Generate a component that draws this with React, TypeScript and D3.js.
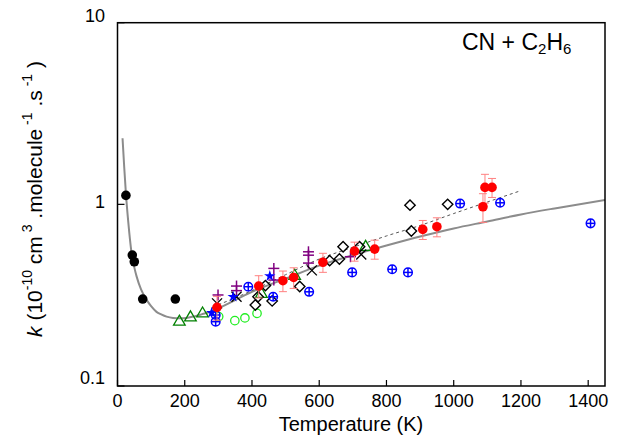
import React from "react";
import * as d3 from "d3";

// ---------- data ----------
const xTicks = [0, 200, 400, 600, 800, 1000, 1200, 1400];
const yTicks = [0.1, 1, 10];
const yTickLabels = ["0.1", "1", "10"];

// solid grey fit curve
const fitT = [15, 20, 25, 32, 42, 50, 57, 70, 87, 100, 116, 130, 146, 165, 186, 205, 225, 250, 275, 300, 400, 500, 600, 700, 800, 900, 1000, 1100, 1200, 1300, 1450];
const fitK = [2.31, 1.6, 1.15, 0.8, 0.537, 0.45, 0.4, 0.34, 0.297, 0.275, 0.256, 0.248, 0.241, 0.237, 0.236, 0.237, 0.241, 0.248, 0.256, 0.268, 0.33, 0.39, 0.46, 0.525, 0.593, 0.665, 0.737, 0.805, 0.88, 0.95, 1.056];

// dashed fit
const dashT = [300, 400, 500, 600, 700, 800, 900, 1000, 1100, 1200];
const dashK = [0.28, 0.335, 0.41, 0.5, 0.58, 0.67, 0.765, 0.89, 1.03, 1.19];

// black filled circles (low T)
const blackT = [25, 44, 50, 75, 172];
const blackK = [1.12, 0.526, 0.483, 0.301, 0.301];

// red filled circles with error bars
const redT = [296, 420, 492, 524, 611, 705, 765, 908, 950, 1087, 1093, 1114];
const redK = [0.271, 0.355, 0.38, 0.396, 0.48, 0.553, 0.567, 0.728, 0.753, 0.97, 1.24, 1.24];
const redErr = [0.15, 0.14, 0.13, 0.13, 0.12, 0.12, 0.12, 0.12, 0.12, 0.18, 0.18, 0.12];

// open diamonds
const diamondT = [410, 418, 440, 460, 542, 631, 660, 671, 720, 874, 870, 982];
const diamondK = [0.279, 0.31, 0.357, 0.294, 0.353, 0.49, 0.5, 0.584, 0.584, 0.713, 0.99, 1.0];

// blue circled plus
const oplusT = [292, 292, 389, 463, 570, 698, 817, 864, 1019, 1138, 1407];
const oplusK = [0.246, 0.226, 0.352, 0.31, 0.33, 0.422, 0.439, 0.422, 1.01, 1.02, 0.786];

// purple plus
const purpleT = [299, 354, 354, 465, 465, 568, 568, 568, 693];
const purpleK = [0.317, 0.355, 0.335, 0.444, 0.383, 0.548, 0.525, 0.475, 0.515];

// black crosses
const crossT = [296, 354, 578, 725];
const crossK = [0.285, 0.31, 0.433, 0.53];

// blue stars
const starT = [280, 344, 453];
const starK = [0.253, 0.31, 0.403];

// dark green open triangles
const triT = [184, 217, 253, 428, 527, 738];
const triK = [0.228, 0.241, 0.253, 0.324, 0.408, 0.589];

// light green open circles
const lgT = [301, 349, 379, 415];
const lgK = [0.241, 0.229, 0.237, 0.251];

// ---------- layout ----------
const W = 633, H = 437;
const X0 = 117.5, X1 = 605, Y0 = 22.7, Y1 = 386;
const FONT = "Liberation Sans, Arial, sans-serif";
const yLabelShift = [-7, -1, -5];

export default function App() {
  const x = d3.scaleLinear().domain([0, 1450]).range([X0, X1]);
  const y = d3.scaleLog().domain([0.1, 10]).range([Y1, Y0]);

  const fitLine = d3.line<number>().x((_, i) => x(fitT[i])).y((d) => y(d)).curve(d3.curveMonotoneX)(fitK) || "";
  const dashLine = d3.line<number>().x((_, i) => x(dashT[i])).y((d) => y(d)).curve(d3.curveMonotoneX)(dashK) || "";

  const star = d3.symbol().type(d3.symbolStar).size(40)() || "";
  const diamond = "M0,-5.2L5.2,0L0,5.2L-5.2,0Z";
  const tri = "M0,-5.8L5.8,4.2L-5.8,4.2Z";

  return (
    <svg width={W} height={H} style={{ position: "absolute", left: 0, top: 0, background: "#fff" }} fontFamily={FONT}>
      <defs>
        <clipPath id="plot">
          <rect x={X0} y={Y0} width={X1 - X0} height={Y1 - Y0} />
        </clipPath>
      </defs>
      {/* curves */}
      <g clipPath="url(#plot)">
        <path d={fitLine} fill="none" stroke="#8c8c8c" strokeWidth={2} />
        <path d={dashLine} fill="none" stroke="#555" strokeWidth={1} strokeDasharray="3,3" />
      </g>

      {/* black filled circles */}
      {blackT.map((t, i) => (
        <circle key={"b" + i} cx={x(t)} cy={y(blackK[i])} r={4.8} fill="#000" />
      ))}
      {/* light green circles */}
      {lgT.map((t, i) => (
        <circle key={"lg" + i} cx={x(t)} cy={y(lgK[i])} r={4.2} fill="none" stroke="#22ee22" strokeWidth={1.3} />
      ))}
      {/* triangles */}
      {triT.map((t, i) => (
        <path key={"t" + i} d={tri} transform={`translate(${x(t)},${y(triK[i])})`} fill="none" stroke="#008000" strokeWidth={1.3} />
      ))}
      {/* diamonds */}
      {diamondT.map((t, i) => (
        <path key={"d" + i} d={diamond} transform={`translate(${x(t)},${y(diamondK[i])})`} fill="none" stroke="#000" strokeWidth={1.4} />
      ))}
      {/* oplus */}
      {oplusT.map((t, i) => {
        const cx = x(t), cy = y(oplusK[i]);
        return (
          <g key={"o" + i} stroke="#0000ff" strokeWidth={1.5} fill="none">
            <circle cx={cx} cy={cy} r={4.3} />
            <line x1={cx - 4.3} x2={cx + 4.3} y1={cy} y2={cy} />
            <line x1={cx} x2={cx} y1={cy - 4.3} y2={cy + 4.3} />
          </g>
        );
      })}
      {/* purple plus */}
      {purpleT.map((t, i) => {
        const cx = x(t), cy = y(purpleK[i]);
        return (
          <g key={"p" + i} stroke="#800080" strokeWidth={1.5}>
            <line x1={cx - 5.5} x2={cx + 5.5} y1={cy} y2={cy} />
            <line x1={cx} x2={cx} y1={cy - 5.5} y2={cy + 5.5} />
          </g>
        );
      })}
      {/* crosses */}
      {crossT.map((t, i) => {
        const cx = x(t), cy = y(crossK[i]);
        return (
          <g key={"c" + i} stroke="#000" strokeWidth={1.3}>
            <line x1={cx - 5} x2={cx + 5} y1={cy - 5} y2={cy + 5} />
            <line x1={cx - 5} x2={cx + 5} y1={cy + 5} y2={cy - 5} />
          </g>
        );
      })}
      {/* stars */}
      {starT.map((t, i) => (
        <path key={"s" + i} d={star} transform={`translate(${x(t)},${y(starK[i])})`} fill="#0000ff" />
      ))}
      {/* red error bars */}
      {redT.map((t, i) => {
        const cx = x(t);
        const lo = y(redK[i] * (1 - redErr[i]));
        const hi = y(redK[i] * (1 + redErr[i]));
        return (
          <g key={"e" + i} stroke="#ff8080" strokeWidth={1}>
            <line x1={cx} x2={cx} y1={lo} y2={hi} />
            <line x1={cx - 4} x2={cx + 4} y1={lo} y2={lo} />
            <line x1={cx - 4} x2={cx + 4} y1={hi} y2={hi} />
          </g>
        );
      })}
      {redT.map((t, i) => (
        <circle key={"r" + i} cx={x(t)} cy={y(redK[i])} r={4.8} fill="#ff0000" />
      ))}

      {/* frame */}
      <rect x={X0} y={Y0} width={X1 - X0} height={Y1 - Y0} fill="none" stroke="#000" strokeWidth={1.5} />
      {/* x ticks */}
      {xTicks.map((t) => (
        <g key={"xt" + t}>
          <line x1={x(t)} x2={x(t)} y1={Y1} y2={Y1 - 6} stroke="#000" strokeWidth={1.2} />
          <text x={x(t)} y={407} textAnchor="middle" fontSize={18}>{t}</text>
        </g>
      ))}
      {/* y ticks */}
      {yTicks.map((t, i) => (
        <g key={"yt" + t}>
          <line x1={X0} x2={X0 + 7} y1={y(t)} y2={y(t)} stroke="#000" strokeWidth={1.2} />
          <text x={105} y={y(t) + yLabelShift[i]} textAnchor="end" fontSize={18} dominantBaseline="middle">{yTickLabels[i]}</text>
        </g>
      ))}
      {/* axis titles */}
      <text x={351} y={431} textAnchor="middle" fontSize={20}>Temperature (K)</text>
      <text transform="translate(42,199) rotate(-90)" textAnchor="middle" fontSize={21}>
        <tspan fontStyle="italic">k</tspan>
        <tspan> (10</tspan>
        <tspan fontSize={14} dy={-10}>-10</tspan>
        <tspan dy={10}> cm</tspan>
        <tspan fontSize={14} dy={-10}> 3</tspan>
        <tspan dy={10}> .molecule</tspan>
        <tspan fontSize={14} dy={-10}> -1</tspan>
        <tspan dy={10}> .s</tspan>
        <tspan fontSize={14} dy={-10}> -1</tspan>
        <tspan dy={10}> )</tspan>
      </text>
      {/* annotation */}
      <text x={462} y={50} fontSize={23}>
        <tspan>CN + C</tspan>
        <tspan fontSize={15} dy={4}>2</tspan>
        <tspan dy={-4}>H</tspan>
        <tspan fontSize={15} dy={4}>6</tspan>
      </text>
    </svg>
  );
}
